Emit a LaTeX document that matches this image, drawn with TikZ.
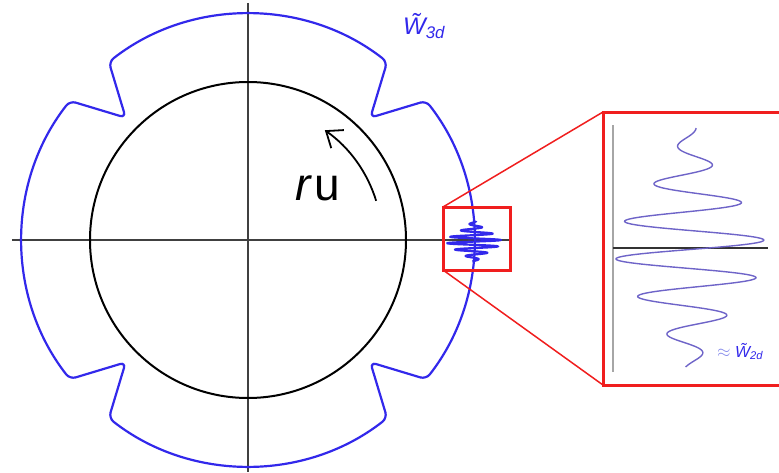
\documentclass[tikz,border=0pt]{standalone}
\usepackage{fontspec}
\setmainfont{Liberation Sans}
\usepackage{xcolor}
\usepackage{tikz}
\usetikzlibrary{arrows.meta, positioning}

\definecolor{curveblue}{RGB}{50,40,235}
\definecolor{waveblue}{RGB}{110,100,200}
\definecolor{softblue}{RGB}{135,140,235}
\definecolor{boxred}{RGB}{240,30,30}

\tikzset{
    axisline/.style={black!75, line width=1.2pt},
    zoombox/.style={draw=boxred, line width=3pt, inner sep=0pt, outer sep=0pt},
    zoomline/.style={boxred, line width=1.5pt}
}

\begin{document}
\begin{tikzpicture}[x=1pt, y=1pt, >={Straight Barb[length=14pt, width=22pt]}]
    \useasboundingbox (-248,-232) rectangle (531,240);
    % 1. Trục tọa độ
    \draw[axisline] (-236,0) -- (262,0);
    \draw[axisline] (0,237) -- (0,-232);

    % 2. Đường tròn và đường cong khía
    \draw[line width=2pt] (0,0) circle[radius=158];
    \draw[curveblue, line width=2.2pt, rounded corners=6pt]
        (-38:226) arc[start angle=-38, end angle=38, radius=226]
        -- (45:173) -- (52:226) arc[start angle=52, end angle=128, radius=226]
        -- (135:173) -- (142:226) arc[start angle=142, end angle=218, radius=226]
        -- (225:173) -- (232:226) arc[start angle=232, end angle=308, radius=226]
        -- (315:173) -- cycle;

    % 3. Mũi tên quay
    \draw[->, line width=1.8pt] (17:134) arc[start angle=17, end angle=55, radius=134];
    \node[font=\fontsize{46}{50}\selectfont, inner sep=0pt] (rulabel) at (70,52) {\textit{r}\kern2pt u};
    \node[font=\fontsize{24}{28}\selectfont\itshape, text=curveblue, anchor=base west, inner sep=0pt]
        (wlabel) at (155,205) {\~W\textsubscript{3d}};

    % 4. Gói sóng nhỏ
    \draw[curveblue, line width=2.2pt, samples=400, domain=-127:112]
        plot ({226 + 27*exp(-((\x+10)/77.8)*((\x+10)/77.8))*cos(\x/38*360)}, {0.17*\x});

    % 5. Hình phóng to
    \draw[gray!70, line width=1.6pt] (365,115) -- (365,-132);
    \draw[black!80, line width=1.3pt] (365,-8) -- (520,-8);
    \draw[waveblue, line width=1.4pt, samples=400, domain=-127:112]
        plot ({442 + 75*exp(-((\x+10)/77.8)*((\x+10)/77.8))*cos(\x/38*360)}, \x);
    \node[font=\fontsize{16}{18}\selectfont, anchor=base west, inner sep=0pt]
        (approxlabel) at (469,-117) {\textcolor{softblue}{$\approx$} \textcolor{curveblue}{\itshape\~W\textsubscript{2d}}};

    % 6. Khung đỏ
    \node[zoombox, minimum width=67pt, minimum height=63pt] (smallbox) at (228.5,1.5) {};
    \node[zoombox, minimum width=205pt, minimum height=273pt] (bigbox) at (457.5,-8.5) {};
    \draw[zoomline] (smallbox.north west) -- (bigbox.north west);
    \draw[zoomline] (smallbox.south west) -- (bigbox.south west);
\end{tikzpicture}
\end{document}
